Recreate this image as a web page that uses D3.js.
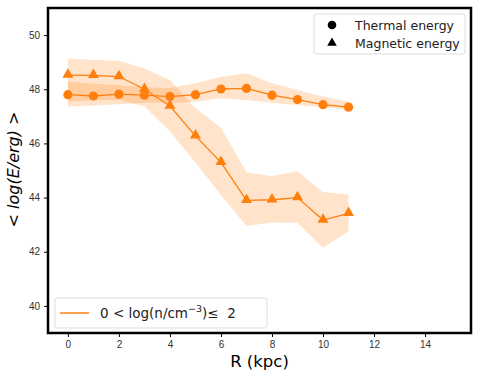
<!DOCTYPE html>
<html>
<head>
<meta charset="utf-8">
<script src="https://cdn.jsdelivr.net/npm/d3@7"></script>
<style>
  body { margin: 0; background: #fff; }
  svg { font-family: "DejaVu Sans", sans-serif; }
  .axis text { font-size: 10px; fill: #333; }
  .axis path { display: none; }
  .axis line { stroke: #000; }
</style>
</head>
<body>
<svg class="chart"></svg>
<script>
var radius = [0, 1, 2, 3, 4, 5, 6, 7, 8, 9, 10, 11];

var thermalMean = [47.80, 47.75, 47.82, 47.78, 47.73, 47.80, 48.01, 48.03, 47.78, 47.62, 47.43, 47.34];
var thermalHigh = [48.28, 48.20, 48.15, 48.07, 48.05, 48.22, 48.46, 48.59, 48.22, 47.97, 47.73, 47.54];
var thermalLow  = [47.36, 47.40, 47.45, 47.50, 47.50, 47.54, 47.67, 47.60, 47.50, 47.42, 47.34, 47.24];

var magneticMean = [48.52, 48.51, 48.47, 48.00, 47.38, 46.28, 45.30, 43.90, 43.92, 44.00, 43.17, 43.42];
var magneticHigh = [49.14, 49.08, 49.05, 48.77, 48.34, 47.30, 46.58, 44.93, 44.80, 44.97, 44.21, 44.11];
var magneticLow  = [47.54, 47.60, 47.60, 47.36, 46.44, 45.30, 44.10, 42.95, 43.08, 43.07, 42.15, 42.76];

var xTicks = [0, 2, 4, 6, 8, 10, 12, 14];
var yTicks = [40, 42, 44, 46, 48, 50];

var W = 479, H = 377;
var margin = {top: 8, right: 8, bottom: 44, left: 48};
var width = W - margin.left - margin.right;
var height = H - margin.top - margin.bottom;
var orange = "#ff7f0e";

var svg = d3.select(".chart")
  .attr("width", W)
  .attr("height", H);

var chart = svg.append("g")
  .attr("transform", "translate(" + margin.left + "," + margin.top + ")");

var x = d3.scaleLinear().domain([-0.78, 15.8]).range([0, width]);
var y = d3.scaleLinear().domain([39, 51]).range([height, 0]);

function bandData(mean, lo, hi) {
  return radius.map(function(r, i) { return {r: r, m: mean[i], lo: lo[i], hi: hi[i]}; });
}
var thermal = bandData(thermalMean, thermalLow, thermalHigh);
var magnetic = bandData(magneticMean, magneticLow, magneticHigh);

var area = d3.area()
  .x(function(d) { return x(d.r); })
  .y0(function(d) { return y(d.lo); })
  .y1(function(d) { return y(d.hi); });

var line = d3.line()
  .x(function(d) { return x(d.r); })
  .y(function(d) { return y(d.m); });

[thermal, magnetic].forEach(function(s) {
  chart.append("path")
    .datum(s)
    .attr("d", area)
    .style("fill", orange)
    .style("fill-opacity", 0.22);
});

[thermal, magnetic].forEach(function(s) {
  chart.append("path")
    .datum(s)
    .attr("d", line)
    .style("fill", "none")
    .style("stroke", orange)
    .style("stroke-width", 1.3);
});

chart.selectAll(".dot")
  .data(thermal)
  .enter().append("circle")
  .attr("cx", function(d) { return x(d.r); })
  .attr("cy", function(d) { return y(d.m); })
  .attr("r", 4.6)
  .style("fill", orange);

var tri = d3.symbol().type(d3.symbolTriangle).size(52);
chart.selectAll(".tri")
  .data(magnetic)
  .enter().append("path")
  .attr("d", tri)
  .attr("transform", function(d) { return "translate(" + x(d.r) + "," + (y(d.m) - 0.5) + ")"; })
  .style("fill", orange);

// axes
chart.append("g")
  .attr("class", "axis")
  .attr("transform", "translate(0," + height + ")")
  .call(d3.axisBottom(x).tickValues(xTicks).tickSize(4).tickPadding(4).tickFormat(d3.format("d")));

chart.append("g")
  .attr("class", "axis")
  .call(d3.axisLeft(y).tickValues(yTicks).tickSize(4).tickPadding(4).tickFormat(d3.format("d")));

chart.append("rect")
  .attr("width", width)
  .attr("height", height)
  .style("fill", "none")
  .style("stroke", "#000")
  .style("stroke-width", 2.5);

// axis labels
svg.append("text")
  .attr("x", margin.left + width / 2)
  .attr("y", 367)
  .attr("text-anchor", "middle")
  .style("font-size", "16.5px")
  .text("R (kpc)");

var yl = svg.append("text")
  .attr("transform", "translate(19," + (margin.top + height / 2 - 1) + ") rotate(-90)")
  .attr("text-anchor", "middle")
  .style("font-size", "16px");
yl.append("tspan").text("< ");
yl.append("tspan").style("font-style", "italic").text("log(E/erg)");
yl.append("tspan").text(" >");

// marker legend
var leg = chart.append("g").attr("transform", "translate(266,6)");
leg.append("rect")
  .attr("width", 151).attr("height", 40).attr("rx", 2)
  .style("fill", "#fff").style("fill-opacity", 0.8)
  .style("stroke", "#ddd");
leg.append("circle").attr("cx", 18).attr("cy", 11).attr("r", 4.3).style("fill", "#000");
leg.append("path").attr("d", d3.symbol().type(d3.symbolTriangle).size(40))
  .attr("transform", "translate(18,29)").style("fill", "#000");
leg.append("text").attr("x", 41).attr("y", 15.5).style("font-size", "12.5px").style("fill", "#222").text("Thermal energy");
leg.append("text").attr("x", 41).attr("y", 34).style("font-size", "12.5px").style("fill", "#222").text("Magnetic energy");

// density legend
var leg2 = chart.append("g").attr("transform", "translate(7," + (height - 35) + ")");
leg2.append("rect")
  .attr("width", 212).attr("height", 30).attr("rx", 2)
  .style("fill", "#fff").style("fill-opacity", 0.8)
  .style("stroke", "#ddd");
leg2.append("line").attr("x1", 5).attr("x2", 34).attr("y1", 15).attr("y2", 15)
  .style("stroke", orange).style("stroke-width", 1.5);
var lt = leg2.append("text").attr("x", 45).attr("y", 20).style("font-size", "13.5px").style("fill", "#222");
lt.append("tspan").text("0 < log(n/cm");
lt.append("tspan").attr("dy", -6).style("font-size", "9.5px").text("\u22123");
lt.append("tspan").attr("dy", 6).text(")\u2264\u00a0 2");
</script>
</body>
</html>
